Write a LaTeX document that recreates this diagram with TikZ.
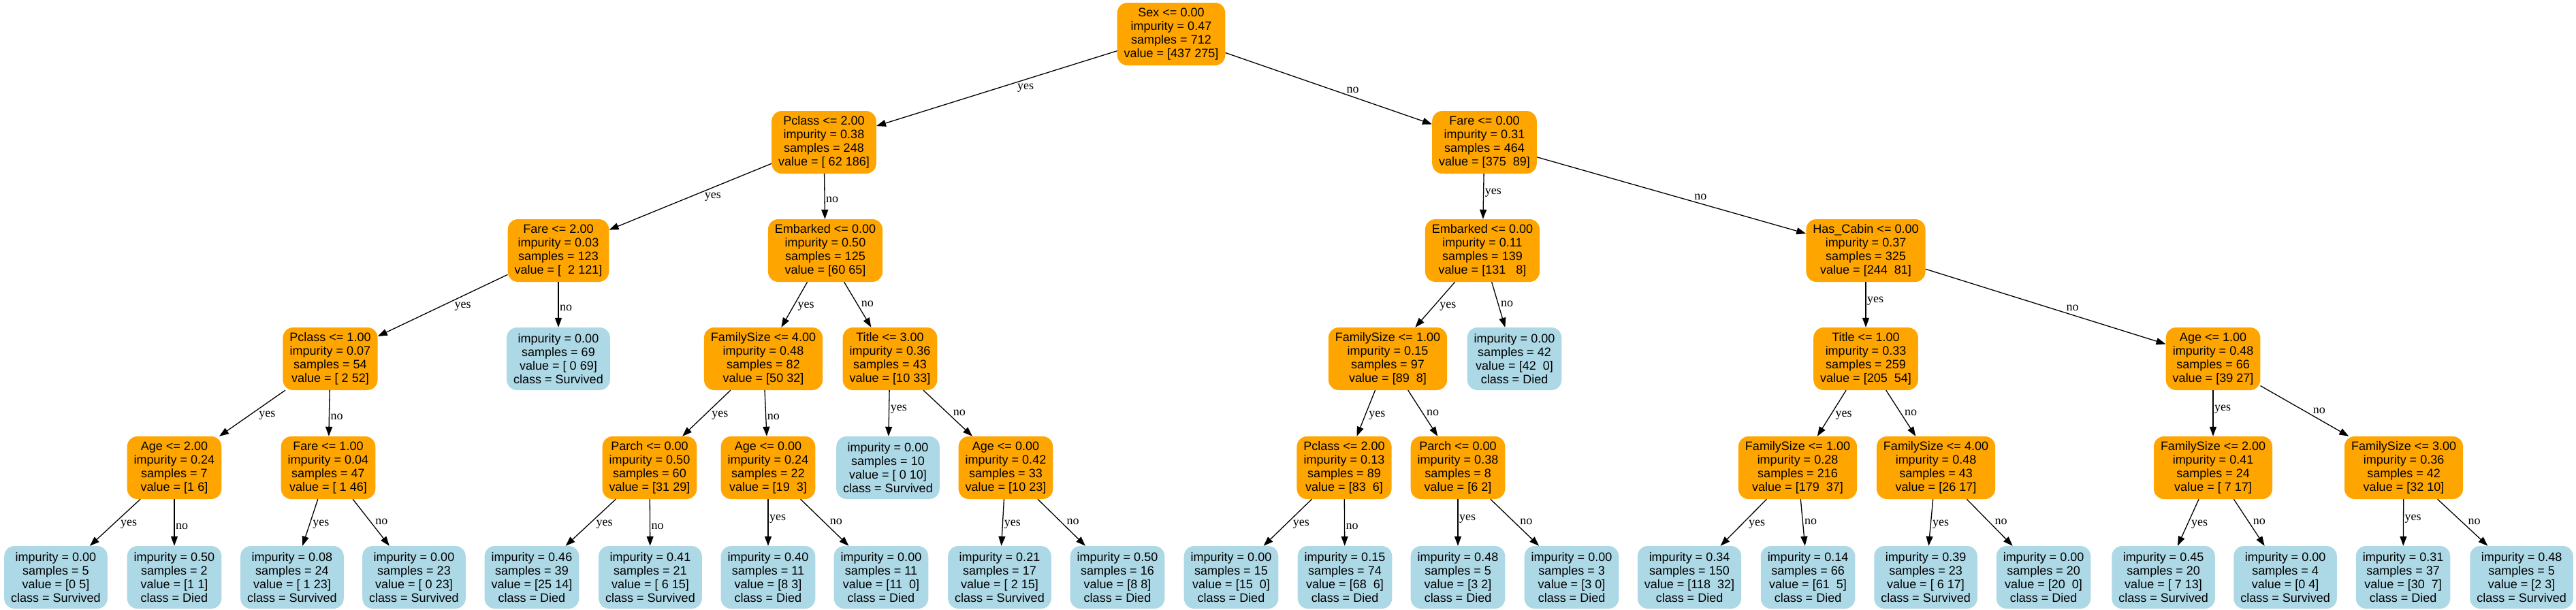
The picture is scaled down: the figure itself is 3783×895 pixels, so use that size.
\documentclass[tikz,border=0pt]{standalone}
\usepackage{fontspec}
\setmainfont{Liberation Sans}
\newfontfamily\edgefont{Liberation Serif}
\usetikzlibrary{arrows.meta}
\definecolor{splitorange}{HTML}{FFA500}
\definecolor{leafblue}{HTML}{ADD8E6}
\tikzset{
 treebox/.style={rounded corners=15pt,minimum height=92pt,inner xsep=10pt,inner ysep=4pt,align=center,font=\fontsize{18}{20}\selectfont},
 splitbox/.style={treebox,fill=splitorange},
 leafbox/.style={treebox,fill=leafblue},
 branch/.style={line width=1.3pt,-{Triangle[length=14pt,width=10pt]}},
 yeslab/.style={auto,pos=.42,inner sep=1.5pt,font=\edgefont\fontsize{18}{20}\selectfont},
 nolab/.style={yeslab,pos=.58}
}
\begin{document}
\begin{tikzpicture}[x=1pt,y=-1pt]
 \useasboundingbox (0,0) rectangle (3783,895);
 \node[splitbox] (sex) at (1720,50) {Sex <= 0.00\\impurity = 0.47\\samples = 712\\value = [437 275]};
 \node[splitbox] (pclassA) at (1210,209) {Pclass <= 2.00\\impurity = 0.38\\samples = 248\\value = [\ 62 186]};
 \node[splitbox] (fareA) at (2180,209) {Fare <= 0.00\\impurity = 0.31\\samples = 464\\value = [375\ \ 89]};
 \node[splitbox] (fareB) at (820,368) {Fare <= 2.00\\impurity = 0.03\\samples = 123\\value = [\ \ 2 121]};
 \node[splitbox] (embarkedA) at (1212,368) {Embarked <= 0.00\\impurity = 0.50\\samples = 125\\value = [60 65]};
 \node[splitbox] (embarkedB) at (2177,368) {Embarked <= 0.00\\impurity = 0.11\\samples = 139\\value = [131\ \ \ 8]};
 \node[splitbox] (cabin) at (2740,368) {Has\_Cabin <= 0.00\\impurity = 0.37\\samples = 325\\value = [244\ \ 81]};
 \node[splitbox] (pclassB) at (485,527) {Pclass <= 1.00\\impurity = 0.07\\samples = 54\\value = [\ 2 52]};
 \node[leafbox] (leafA) at (820,527) {impurity = 0.00\\samples = 69\\value = [\ 0 69]\\class = Survived};
 \node[splitbox] (famA) at (1121,527) {FamilySize <= 4.00\\impurity = 0.48\\samples = 82\\value = [50 32]};
 \node[splitbox] (titleA) at (1307,527) {Title <= 3.00\\impurity = 0.36\\samples = 43\\value = [10 33]};
 \node[splitbox] (famB) at (2038,527) {FamilySize <= 1.00\\impurity = 0.15\\samples = 97\\value = [89\ \ 8]};
 \node[leafbox] (leafB) at (2224,527) {impurity = 0.00\\samples = 42\\value = [42\ \ 0]\\class = Died};
 \node[splitbox] (titleB) at (2740,527) {Title <= 1.00\\impurity = 0.33\\samples = 259\\value = [205\ \ 54]};
 \node[splitbox] (ageA) at (3250,527) {Age <= 1.00\\impurity = 0.48\\samples = 66\\value = [39 27]};
 \node[splitbox] (ageB) at (256,687) {Age <= 2.00\\impurity = 0.24\\samples = 7\\value = [1 6]};
 \node[splitbox] (fareC) at (482,687) {Fare <= 1.00\\impurity = 0.04\\samples = 47\\value = [\ 1 46]};
 \node[splitbox] (parchA) at (954,687) {Parch <= 0.00\\impurity = 0.50\\samples = 60\\value = [31 29]};
 \node[splitbox] (ageC) at (1128,687) {Age <= 0.00\\impurity = 0.24\\samples = 22\\value = [19\ \ 3]};
 \node[leafbox] (leafC) at (1304,687) {impurity = 0.00\\samples = 10\\value = [\ 0 10]\\class = Survived};
 \node[splitbox] (ageD) at (1477,687) {Age <= 0.00\\impurity = 0.42\\samples = 33\\value = [10 23]};
 \node[splitbox] (pclassC) at (1974,687) {Pclass <= 2.00\\impurity = 0.13\\samples = 89\\value = [83\ \ 6]};
 \node[splitbox] (parchB) at (2141,687) {Parch <= 0.00\\impurity = 0.38\\samples = 8\\value = [6 2]};
 \node[splitbox] (famC) at (2640,687) {FamilySize <= 1.00\\impurity = 0.28\\samples = 216\\value = [179\ \ 37]};
 \node[splitbox] (famD) at (2843,687) {FamilySize <= 4.00\\impurity = 0.48\\samples = 43\\value = [26 17]};
 \node[splitbox] (famE) at (3250,687) {FamilySize <= 2.00\\impurity = 0.41\\samples = 24\\value = [\ 7 17]};
 \node[splitbox] (famF) at (3530,687) {FamilySize <= 3.00\\impurity = 0.36\\samples = 42\\value = [32 10]};
 \node[leafbox] (l1) at (82,848) {impurity = 0.00\\samples = 5\\value = [0 5]\\class = Survived};
 \node[leafbox] (l2) at (256,848) {impurity = 0.50\\samples = 2\\value = [1 1]\\class = Died};
 \node[leafbox] (l3) at (429,848) {impurity = 0.08\\samples = 24\\value = [\ 1 23]\\class = Survived};
 \node[leafbox] (l4) at (608,848) {impurity = 0.00\\samples = 23\\value = [\ 0 23]\\class = Survived};
 \node[leafbox] (l5) at (781,848) {impurity = 0.46\\samples = 39\\value = [25 14]\\class = Died};
 \node[leafbox] (l6) at (955,848) {impurity = 0.41\\samples = 21\\value = [\ 6 15]\\class = Survived};
 \node[leafbox] (l7) at (1128,848) {impurity = 0.40\\samples = 11\\value = [8 3]\\class = Died};
 \node[leafbox] (l8) at (1294,848) {impurity = 0.00\\samples = 11\\value = [11\ \ 0]\\class = Died};
 \node[leafbox] (l9) at (1468,848) {impurity = 0.21\\samples = 17\\value = [\ 2 15]\\class = Survived};
 \node[leafbox] (l10) at (1641,848) {impurity = 0.50\\samples = 16\\value = [8 8]\\class = Died};
 \node[leafbox] (l11) at (1808,848) {impurity = 0.00\\samples = 15\\value = [15\ \ 0]\\class = Died};
 \node[leafbox] (l12) at (1975,848) {impurity = 0.15\\samples = 74\\value = [68\ \ 6]\\class = Died};
 \node[leafbox] (l13) at (2141,848) {impurity = 0.48\\samples = 5\\value = [3 2]\\class = Died};
 \node[leafbox] (l14) at (2308,848) {impurity = 0.00\\samples = 3\\value = [3 0]\\class = Died};
 \node[leafbox] (l15) at (2481,848) {impurity = 0.34\\samples = 150\\value = [118\ \ 32]\\class = Died};
 \node[leafbox] (l16) at (2655,848) {impurity = 0.14\\samples = 66\\value = [61\ \ 5]\\class = Died};
 \node[leafbox] (l17) at (2828,848) {impurity = 0.39\\samples = 23\\value = [\ 6 17]\\class = Survived};
 \node[leafbox] (l18) at (3001,848) {impurity = 0.00\\samples = 20\\value = [20\ \ 0]\\class = Died};
 \node[leafbox] (l19) at (3177,848) {impurity = 0.45\\samples = 20\\value = [\ 7 13]\\class = Survived};
 \node[leafbox] (l20) at (3356,848) {impurity = 0.00\\samples = 4\\value = [0 4]\\class = Survived};
 \node[leafbox] (l21) at (3529,848) {impurity = 0.31\\samples = 37\\value = [30\ \ 7]\\class = Died};
 \node[leafbox] (l22) at (3703,848) {impurity = 0.48\\samples = 5\\value = [2 3]\\class = Survived};
 \draw[branch] (sex) -- node[yeslab]{yes} (pclassA);
 \draw[branch] (sex) -- node[nolab]{no} (fareA);
 \draw[branch] (pclassA) -- node[yeslab]{yes} (fareB);
 \draw[branch] (pclassA) -- node[nolab]{no} (embarkedA);
 \draw[branch] (fareA) -- node[yeslab]{yes} (embarkedB);
 \draw[branch] (fareA) -- node[nolab]{no} (cabin);
 \draw[branch] (fareB) -- node[yeslab]{yes} (pclassB);
 \draw[branch] (fareB) -- node[nolab]{no} (leafA);
 \draw[branch] (embarkedA) -- node[yeslab]{yes} (famA);
 \draw[branch] (embarkedA) -- node[nolab]{no} (titleA);
 \draw[branch] (embarkedB) -- node[yeslab]{yes} (famB);
 \draw[branch] (embarkedB) -- node[nolab]{no} (leafB);
 \draw[branch] (cabin) -- node[yeslab]{yes} (titleB);
 \draw[branch] (cabin) -- node[nolab]{no} (ageA);
 \draw[branch] (pclassB) -- node[yeslab]{yes} (ageB);
 \draw[branch] (pclassB) -- node[nolab]{no} (fareC);
 \draw[branch] (famA) -- node[yeslab]{yes} (parchA);
 \draw[branch] (famA) -- node[nolab]{no} (ageC);
 \draw[branch] (titleA) -- node[yeslab]{yes} (leafC);
 \draw[branch] (titleA) -- node[nolab]{no} (ageD);
 \draw[branch] (famB) -- node[yeslab]{yes} (pclassC);
 \draw[branch] (famB) -- node[nolab]{no} (parchB);
 \draw[branch] (titleB) -- node[yeslab]{yes} (famC);
 \draw[branch] (titleB) -- node[nolab]{no} (famD);
 \draw[branch] (ageA) -- node[yeslab]{yes} (famE);
 \draw[branch] (ageA) -- node[nolab]{no} (famF);
 \draw[branch] (ageB) -- node[yeslab]{yes} (l1);
 \draw[branch] (ageB) -- node[nolab]{no} (l2);
 \draw[branch] (fareC) -- node[yeslab]{yes} (l3);
 \draw[branch] (fareC) -- node[nolab]{no} (l4);
 \draw[branch] (parchA) -- node[yeslab]{yes} (l5);
 \draw[branch] (parchA) -- node[nolab]{no} (l6);
 \draw[branch] (ageC) -- node[yeslab]{yes} (l7);
 \draw[branch] (ageC) -- node[nolab]{no} (l8);
 \draw[branch] (ageD) -- node[yeslab]{yes} (l9);
 \draw[branch] (ageD) -- node[nolab]{no} (l10);
 \draw[branch] (pclassC) -- node[yeslab]{yes} (l11);
 \draw[branch] (pclassC) -- node[nolab]{no} (l12);
 \draw[branch] (parchB) -- node[yeslab]{yes} (l13);
 \draw[branch] (parchB) -- node[nolab]{no} (l14);
 \draw[branch] (famC) -- node[yeslab]{yes} (l15);
 \draw[branch] (famC) -- node[nolab]{no} (l16);
 \draw[branch] (famD) -- node[yeslab]{yes} (l17);
 \draw[branch] (famD) -- node[nolab]{no} (l18);
 \draw[branch] (famE) -- node[yeslab]{yes} (l19);
 \draw[branch] (famE) -- node[nolab]{no} (l20);
 \draw[branch] (famF) -- node[yeslab]{yes} (l21);
 \draw[branch] (famF) -- node[nolab]{no} (l22);
\end{tikzpicture}
\end{document}
